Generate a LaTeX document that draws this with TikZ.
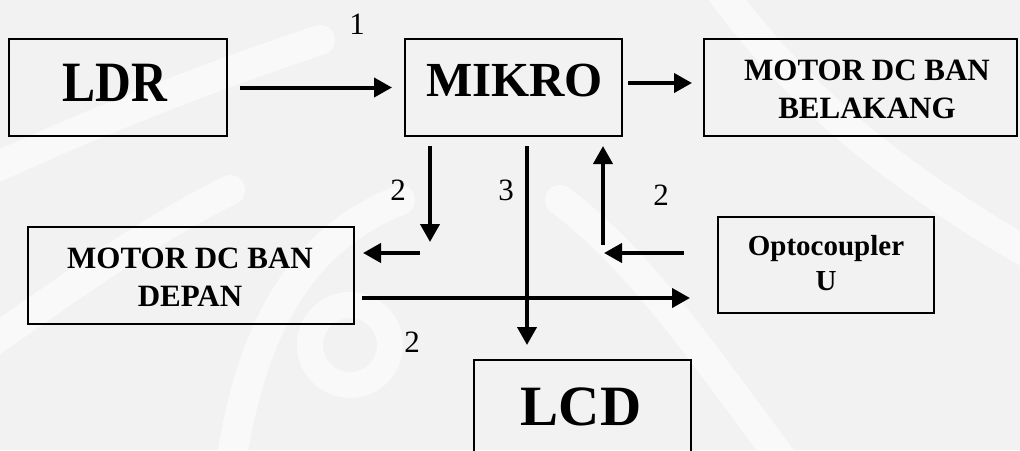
\documentclass[tikz,border=0pt]{standalone}
\usepackage{graphicx}
\usepackage{fontspec}
\setmainfont{Liberation Serif}
\usetikzlibrary{arrows.meta}
\definecolor{paper}{HTML}{F2F2F2}

\tikzset{
  block/.style={draw=black, line width=1.4pt, inner sep=0pt, outer sep=0pt},
  txt/.style={inner sep=0pt, outer sep=0pt, anchor=base, text=black},
  huge/.style={txt, font=\fontsize{57}{60}\selectfont\bfseries},
  large/.style={txt, font=\fontsize{49}{52}\selectfont\bfseries},
  mid/.style={txt, font=\fontsize{31}{34}\selectfont\bfseries},
  small/.style={txt, font=\fontsize{29}{32}\selectfont\bfseries},
  num/.style={inner sep=0pt, outer sep=0pt, font=\fontsize{31}{33}\selectfont},
  flow/.style={line width=4pt, -{Triangle[length=18pt,width=19pt]}},
  swirl/.style={white, line width=30pt, line cap=round, opacity=0.55}
}

\begin{document}
\begin{tikzpicture}[x=1pt, y=-1pt]
  \useasboundingbox (0,0) rectangle (1020,450);
  \clip (0,0) rectangle (1020,450);
  \fill[paper] (0,0) rectangle (1020,450);

  % faint watermark swirls
  \draw[swirl] (-20,350) .. controls (80,280) and (150,230) .. (230,190);
  \draw[swirl] (230,470) .. controls (250,330) and (300,240) .. (400,200);
  \draw[white, line width=26pt, opacity=0.55] (350,345) circle (40);
  \draw[swirl] (560,200) .. controls (640,260) and (700,350) .. (790,470);
  \draw[swirl] (720,-10) .. controls (800,100) and (900,180) .. (1040,260);
  \draw[swirl] (-10,170) .. controls (100,120) and (200,80) .. (320,40);

  % blocks
  \node[block, minimum width=218pt, minimum height=97pt] (ldr)      at (118,87.5)  {};
  \node[block, minimum width=217pt, minimum height=97pt] (mikro)    at (513.5,87.5) {};
  \node[block, minimum width=313pt, minimum height=97pt] (belakang) at (860.5,87.5) {};
  \node[block, minimum width=326pt, minimum height=97pt] (depan)    at (191,275.5) {};
  \node[block, minimum width=216pt, minimum height=96pt] (opto)     at (826,265)   {};
  \node[block, minimum width=217pt, minimum height=97pt] (lcd)      at (582.5,408.5) {};

  % block texts
  \node[huge]  (ldrtext)   at (115,101)   {\scalebox{0.87}[1]{LDR}};
  \node[large] (mikrotext) at (514.5,96)  {MIKRO};
  \node[huge]  (lcdtext)   at (581,425)   {LCD};
  \node[mid]   (belA)      at (867,80)    {MOTOR DC BAN};
  \node[mid]   (belB)      at (867,118)   {BELAKANG};
  \node[mid]   (depA)      at (190,268)   {MOTOR DC BAN};
  \node[mid]   (depB)      at (190,306)   {DEPAN};
  \node[small] (optA)      at (826,255)   {Optocoupler};
  \node[small] (optB)      at (826,290)   {U};

  % junction points of the open arrows
  \coordinate (downend) at (430,242);
  \coordinate (leftstart) at (420,253);
  \coordinate (lcdline) at (527,250);
  \coordinate (crossline) at (500,298);
  \coordinate (upend) at (604,253);
  \coordinate (upstart) at (603,245);
  \coordinate (beltarget) at (660,83);

  % connectors
  \draw[flow, shorten <=13pt, shorten >=13pt] (ldr.east) -- (mikro.west);
  \draw[flow, shorten <=6pt, shorten >=12pt] (mikro.east |- beltarget) -- (belakang.west |- beltarget);
  \draw[flow, shorten <=10pt] (mikro.south -| downend) -- (downend);
  \draw[flow, shorten >=9pt] (leftstart) -- (leftstart -| depan.east);
  \draw[flow, shorten <=10pt, shorten >=15pt] (mikro.south -| lcdline) -- (lcd.north -| lcdline);
  \draw[flow, shorten <=8pt, shorten >=28pt] (depan.east |- crossline) -- (opto.west |- crossline);
  \draw[flow, shorten <=34pt] (opto.west |- upend) -- (upend);
  \draw[flow, shorten >=10pt] (upstart) -- (mikro.south -| upstart);

  % connector labels
  \node[num] (n1) at (357,24)  {1};
  \node[num] (n2a) at (398,190) {2};
  \node[num] (n3) at (506,190) {3};
  \node[num] (n2b) at (661,195) {2};
  \node[num] (n2c) at (412,342) {2};
\end{tikzpicture}
\end{document}
